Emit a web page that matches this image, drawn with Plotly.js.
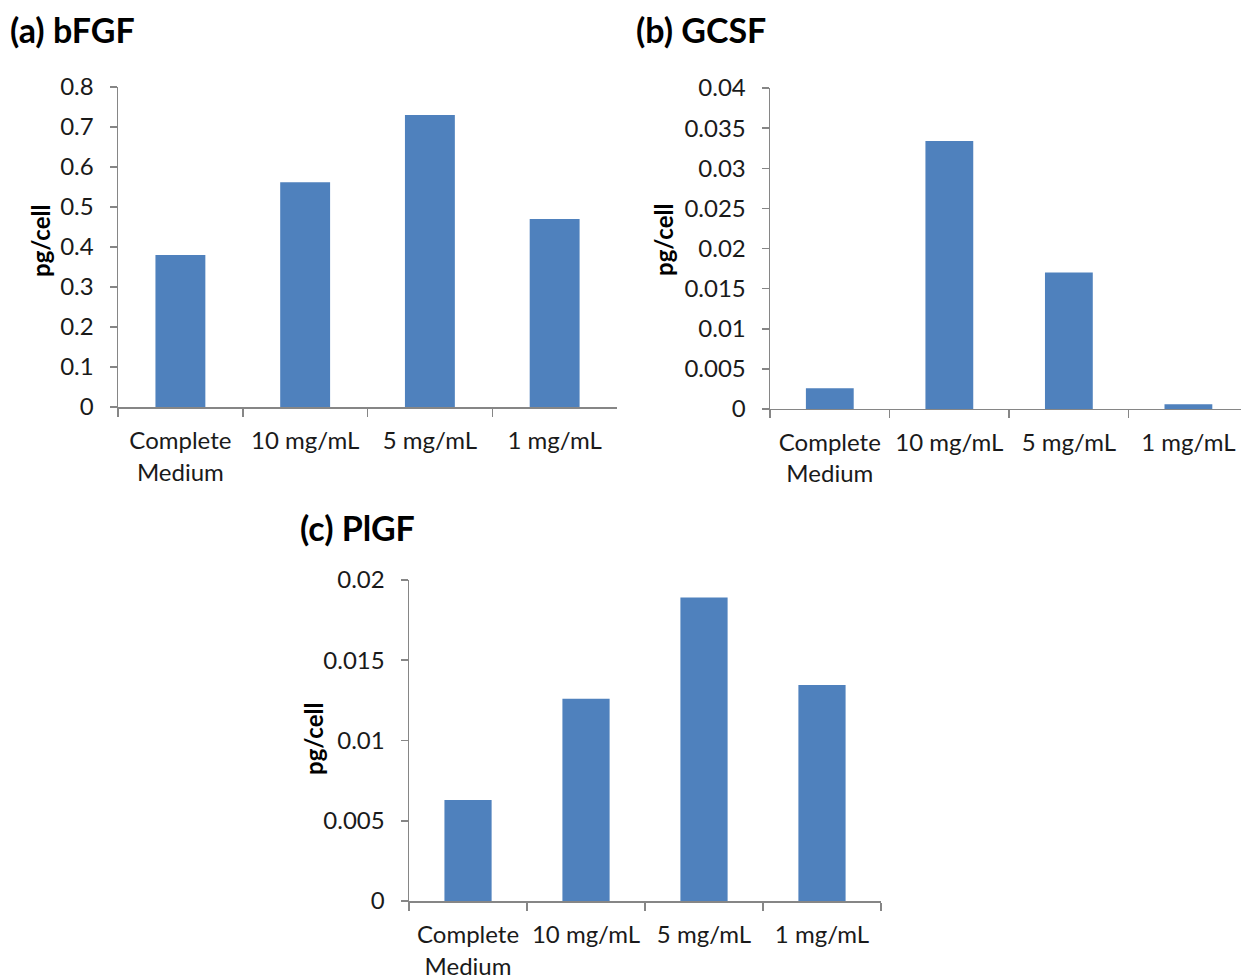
<!DOCTYPE html>
<html><head><meta charset="utf-8">
<script src="https://cdn.plot.ly/plotly-3.0.1.min.js"></script>
<style>html,body{margin:0;padding:0;background:#fff}</style>
</head><body><div id="chart" style="width:1241px;height:978px"></div>
<script>
const categories = ["Complete<br>Medium", "10 mg/mL", "5 mg/mL", "1 mg/mL"];
const bFGF = [0.38, 0.562, 0.73, 0.47];
const GCSF = [0.0026, 0.0334, 0.0170, 0.0006];
const PlGF = [0.0063, 0.0126, 0.0189, 0.01345];
const panelTitles = ["(a) bFGF", "(b) GCSF", "(c) PlGF"];
const yTitle = "pg/cell";
const ticksA = [0, 0.1, 0.2, 0.3, 0.4, 0.5, 0.6, 0.7, 0.8];
const ticksB = [0, 0.005, 0.01, 0.015, 0.02, 0.025, 0.03, 0.035, 0.04];
const ticksC = [0, 0.005, 0.01, 0.015, 0.02];

const FONT = "Lato, 'Open Sans', sans-serif";
const barColor = "#4f81bd";
const axisColor = "#868686";
const W = 1241, H = 978;

function bar(y, xa, ya) {
  return {type: "bar", x: categories, y: y, xaxis: xa, yaxis: ya,
    marker: {color: barColor}, width: 0.4, hoverinfo: "y", showlegend: false};
}
function xax(domain, anchor, range) {
  return {domain: domain, anchor: anchor, type: "category", range: range,
    showline: true, linecolor: axisColor, linewidth: 1.5, ticks: "outside",
    tickson: "boundaries", ticklen: 8, tickcolor: axisColor, tickwidth: 1.5,
    showgrid: false, zeroline: false, ticklabelstandoff: 12,
    tickfont: {family: FONT, size: 24, color: "#1a1a1a"}, fixedrange: true};
}
function yax(domain, anchor, range, tv) {
  return {domain: domain, anchor: anchor, range: range, tickvals: tv,
    ticktext: tv.map(v => String(v)),
    showline: true, linecolor: axisColor, linewidth: 1.5, ticks: "outside",
    ticklen: 7, tickcolor: axisColor, tickwidth: 1.5, showgrid: false, zeroline: false,
    ticklabelstandoff: 11,
    tickfont: {family: FONT, size: 24, color: "#1a1a1a"},
    fixedrange: true};
}
function ytitle(px, py) {
  return {text: "<b>" + yTitle + "</b>", xref: "paper", yref: "paper", x: px / W, y: 1 - py / H,
    xanchor: "center", yanchor: "middle", textangle: -90, showarrow: false,
    font: {family: FONT, size: 24, color: "#000"}};
}
function ptitle(t, px, py) {
  return {text: "<b>" + t + "</b>", xref: "paper", yref: "paper", x: px / W, y: 1 - py / H,
    xanchor: "left", yanchor: "middle", showarrow: false, font: {family: FONT, size: 34, color: "#000"}};
}

const data = [bar(bFGF, "x", "y"), bar(GCSF, "x2", "y2"), bar(PlGF, "x3", "y3")];
const layout = {
  width: W, height: H, margin: {l: 0, r: 0, t: 0, b: 0},
  paper_bgcolor: "#fff", plot_bgcolor: "#fff",
  xaxis: xax([0.0951, 0.4972], "y", [-0.5, 3.5]),
  yaxis: yax([0.5838, 0.9110], "x", [0, 0.8], ticksA),
  xaxis2: xax([0.6205, 1.0], "y2", [-0.5, 3.44]),
  yaxis2: yax([0.5818, 0.9100], "x2", [0, 0.04], ticksB),
  xaxis3: xax([0.3296, 0.7099], "y3", [-0.5, 3.5]),
  yaxis3: yax([0.0787, 0.4070], "x3", [0, 0.02], ticksC),
  annotations: [
    ptitle(panelTitles[0], 8, 29),
    ptitle(panelTitles[1], 634, 29),
    ptitle(panelTitles[2], 298, 527),
    ytitle(40, 241),
    ytitle(663, 240),
    ytitle(313, 739)
  ]
};
Plotly.newPlot("chart", data, layout, {displayModeBar: false, staticPlot: true});
</script></body></html>
